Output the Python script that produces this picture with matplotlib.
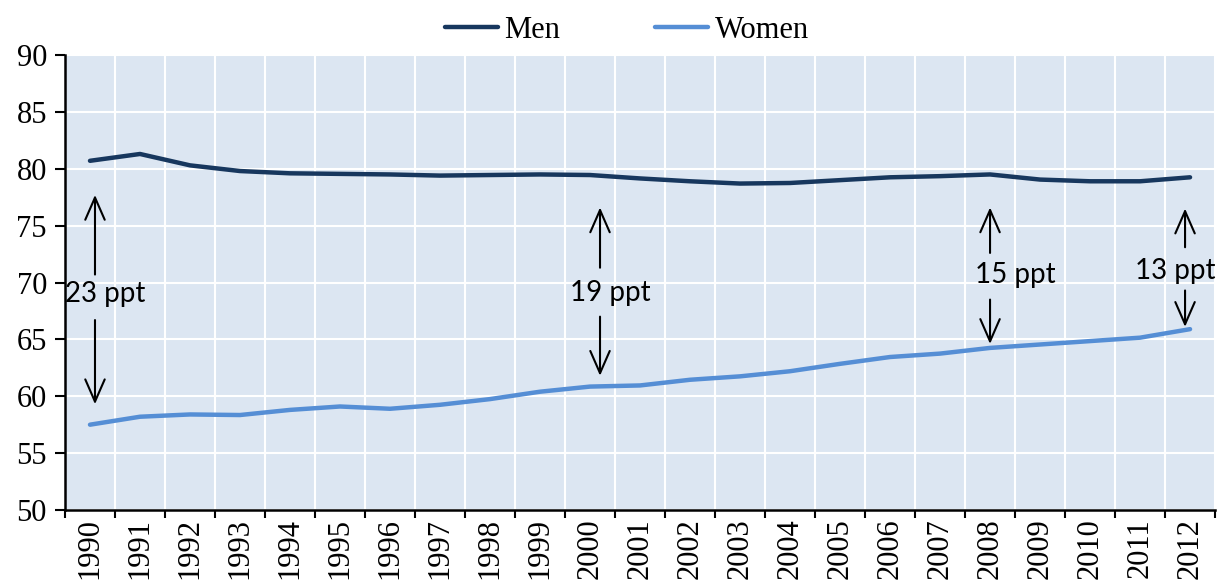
import matplotlib.pyplot as plt
import numpy as np

years = [str(y) for y in range(1990, 2013)]
men = [80.7, 81.3, 80.3, 79.8, 79.6, 79.55, 79.5, 79.4, 79.45, 79.5, 79.45,
       79.15, 78.9, 78.7, 78.75, 79.0, 79.25, 79.35, 79.5, 79.05, 78.9, 78.9, 79.25]
women = [57.5, 58.2, 58.4, 58.35, 58.8, 59.1, 58.9, 59.25, 59.75, 60.4, 60.85,
         60.95, 61.45, 61.75, 62.2, 62.85, 63.45, 63.75, 64.25, 64.55, 64.85, 65.15, 65.9]

# gap annotations: (x position, label y, arrow up from/to, arrow down from/to, text)
gap_x = [0.1, 10.2, 18.0, 21.9]
gap_text_x = [0.3, 10.4, 18.5, 21.7]
gap_label_y = [69.0, 69.1, 70.65, 71.0]
gap_up = [(70.7, 77.7), (71.3, 76.6), (72.6, 76.6), (73.1, 76.5)]
gap_down = [(66.7, 59.3), (67.0, 61.8), (68.5, 64.6), (69.3, 66.1)]
gap_labels = ["23 ppt", "19 ppt", "15 ppt", "13 ppt"]

men_color = "#17375e"
women_color = "#558ed5"

fig = plt.figure(figsize=(12.17, 5.81), dpi=100)
ax = fig.add_axes([0.0534, 0.1222, 0.9450, 0.7831])
ax.set_facecolor("#dce6f2")

x = np.arange(len(years))
ax.plot(x, men, color=men_color, lw=3.2, label="Men", solid_capstyle="round")
ax.plot(x, women, color=women_color, lw=3.2, label="Women", solid_capstyle="round")

arrow = dict(arrowstyle="->,head_length=1.6,head_width=0.7", color="black", lw=1.5,
             shrinkA=0, shrinkB=0)
for gx, tx, ly, up, dn, txt in zip(gap_x, gap_text_x, gap_label_y, gap_up, gap_down, gap_labels):
    ax.annotate("", xy=(gx, up[1]), xytext=(gx, up[0]), arrowprops=arrow)
    ax.annotate("", xy=(gx, dn[1]), xytext=(gx, dn[0]), arrowprops=arrow)
    ax.text(tx, ly, txt, ha="center", va="center", fontsize=20, family="Lato")

ax.set_xlim(-0.5, len(years) - 0.5)
ax.set_ylim(50, 90)
ax.set_yticks(range(50, 91, 5))
ax.set_xticks(np.arange(len(years) + 1) - 0.5, minor=False)
ax.set_xticklabels([])
ax.set_xticks(x, minor=True)
ax.set_xticklabels(years, minor=True, rotation=90, fontsize=22, family="Liberation Serif")
ax.tick_params(axis="x", which="minor", length=0, pad=6)
ax.tick_params(axis="x", which="major", length=6, width=1.5, direction="out")
ax.tick_params(axis="y", length=7, width=1.5, direction="out", pad=6)
for lab in ax.get_yticklabels():
    lab.set_family("Liberation Serif")
    lab.set_fontsize(22)

ax.grid(True, which="major", color="white", lw=1.5)
ax.set_axisbelow(True)
for s in ["top", "right"]:
    ax.spines[s].set_visible(False)
ax.spines["left"].set_linewidth(1.8)
ax.spines["bottom"].set_linewidth(1.8)

fig.legend(loc="upper center", bbox_to_anchor=(0.515, 1.02), ncol=2, frameon=False,
           prop={"family": "Liberation Serif", "size": 22}, handlelength=1.75,
           columnspacing=3.1, handletextpad=0.2)

fig.savefig("out.png", dpi=100)
